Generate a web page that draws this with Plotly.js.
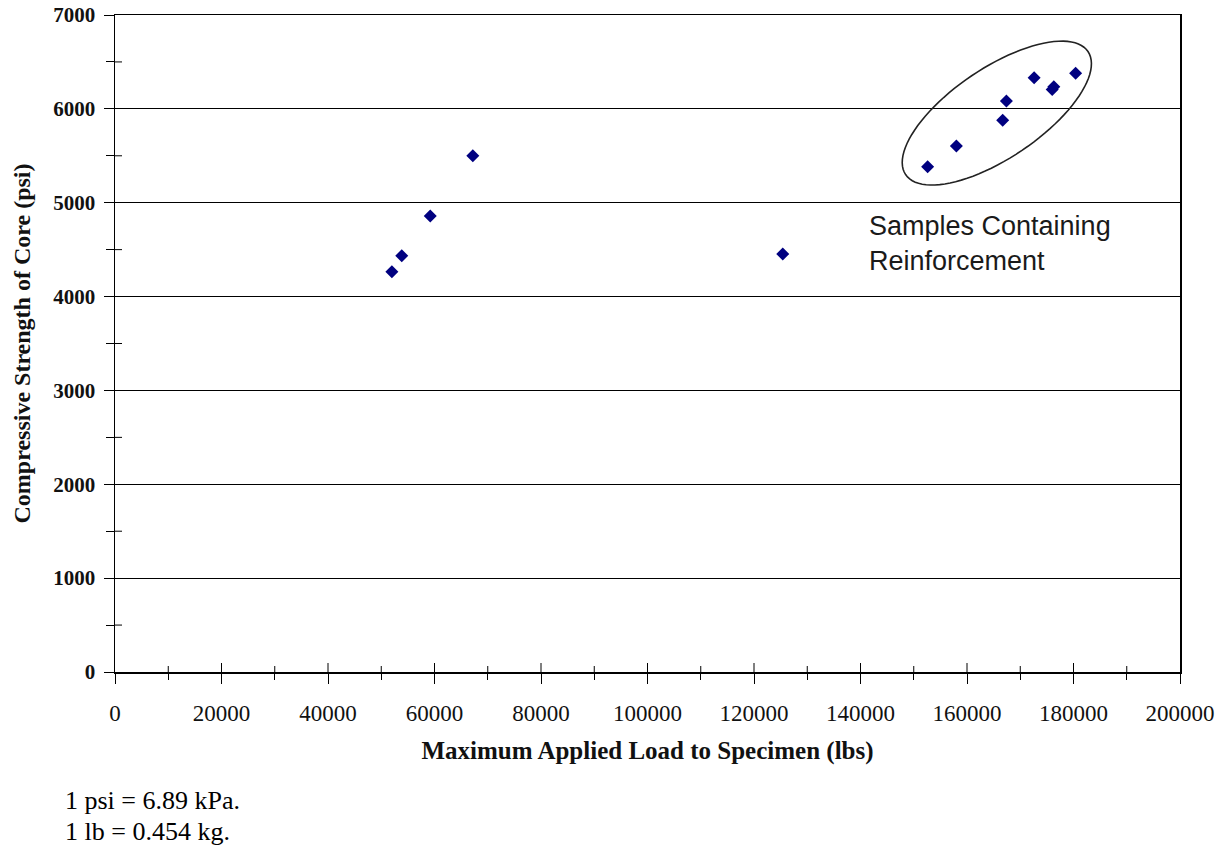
<!DOCTYPE html>
<html>
<head>
<meta charset="utf-8">
<script src="https://cdn.plot.ly/plotly-3.0.1.min.js"></script>
<style>html,body{margin:0;padding:0;background:#fff;}#chart{width:1228px;height:847px;}</style>
</head>
<body>
<div id="chart"></div>
<script>
// ---- data ----
const loadLbs = [52000, 53850, 59200, 67200, 125400, 152600, 158000, 166700, 167400, 172600, 176000, 176300, 180400];
const strengthPsi = [4265, 4435, 4858, 5500, 4453, 5384, 5604, 5878, 6084, 6332, 6205, 6235, 6379];
const xTickVals = [0, 20000, 40000, 60000, 80000, 100000, 120000, 140000, 160000, 180000, 200000];
const xMinorVals = [10000, 30000, 50000, 70000, 90000, 110000, 130000, 150000, 170000, 190000];
const yTickVals = [0, 1000, 2000, 3000, 4000, 5000, 6000, 7000];
const yMinorVals = [500, 1500, 2500, 3500, 4500, 5500, 6500];
const xTitle = 'Maximum Applied Load to Specimen (lbs)';
const yTitle = 'Compressive Strength of Core (psi)';
const noteText = 'Samples Containing<br>Reinforcement';
const footnotes = ['1 psi = 6.89 kPa.', '1 lb = 0.454 kg.'];
// ellipse highlighting reinforced samples: centre in data units, radii in px, tilt in degrees
const ellipseCenter = {x: 165600, y: 5955};
const ellipseRadiiPx = {a: 110, b: 45};
const ellipseTiltDeg = 34;

// ---- layout geometry ----
const W = 1228, H = 847;
const M = {l: 115, r: 48, t: 15, b: 175};
const xRange = [0, 200000], yRange = [0, 7000];
const pxPerX = (W - M.l - M.r) / (xRange[1] - xRange[0]);
const pxPerY = (H - M.t - M.b) / (yRange[1] - yRange[0]);

function ellipsePath() {
  const th = ellipseTiltDeg * Math.PI / 180;
  const pts = [];
  for (let i = 0; i < 96; i++) {
    const t = 2 * Math.PI * i / 96;
    const ex = ellipseRadiiPx.a * Math.cos(t), ey = ellipseRadiiPx.b * Math.sin(t);
    const dx = ex * Math.cos(th) - ey * Math.sin(th);
    const dy = ex * Math.sin(th) + ey * Math.cos(th);
    pts.push((ellipseCenter.x + dx / pxPerX).toFixed(1) + ',' + (ellipseCenter.y + dy / pxPerY).toFixed(2));
  }
  return 'M' + pts.join('L') + 'Z';
}

// inner halves of the crossing tick marks (the outer halves are the axes' own ticks)
function innerTicks() {
  const s = [];
  const ln = {color: '#000', width: 1};
  xTickVals.slice(1, -1).forEach(v => s.push({type: 'line', xref: 'x', yref: 'paper', ysizemode: 'pixel', yanchor: 0,
    x0: v, x1: v, y0: 0, y1: 9, line: ln, layer: 'above'}));
  xMinorVals.forEach(v => s.push({type: 'line', xref: 'x', yref: 'paper', ysizemode: 'pixel', yanchor: 0,
    x0: v, x1: v, y0: 0, y1: 6, line: ln, layer: 'above'}));
  yMinorVals.forEach(v => s.push({type: 'line', xref: 'paper', yref: 'y', xsizemode: 'pixel', xanchor: 0,
    x0: 0, x1: 7, y0: v, y1: v, line: ln, layer: 'above'}));
  return s;
}

const serif = 'Liberation Serif, Times New Roman, serif';

const traces = [
  {
    type: 'scatter', mode: 'markers', x: loadLbs, y: strengthPsi,
    marker: {symbol: 'diamond', size: 10, color: '#000080'},
    hoverinfo: 'x+y', showlegend: false
  }
];

const layout = {
  width: W, height: H,
  margin: M,
  paper_bgcolor: '#fff', plot_bgcolor: '#fff',
  showlegend: false,
  xaxis: {
    range: xRange, tickvals: xTickVals, ticktext: xTickVals.map(String),
    ticks: 'outside', ticklen: 10, tickwidth: 1, tickcolor: '#000',
    minor: {tickvals: xMinorVals, ticks: 'outside', ticklen: 6, tickwidth: 1, tickcolor: '#000', showgrid: false},
    showgrid: false, zeroline: false,
    showline: true, mirror: true, linecolor: '#000', linewidth: 1.5,
    ticklabelstandoff: 10,
    tickfont: {family: serif, size: 23, color: '#111'},
    title: {text: '<b>' + xTitle + '</b>', font: {family: serif, size: 25, color: '#111'}, standoff: 16},
    automargin: false
  },
  yaxis: {
    range: yRange, tickvals: yTickVals, ticktext: yTickVals.map(String),
    ticks: 'outside', ticklen: 10, tickwidth: 1, tickcolor: '#000',
    minor: {tickvals: yMinorVals, ticks: 'outside', ticklen: 8, tickwidth: 1, tickcolor: '#000', showgrid: false},
    showgrid: true, gridcolor: '#000', gridwidth: 1, zeroline: false,
    showline: true, mirror: true, linecolor: '#000', linewidth: 1.5,
    ticklabelstandoff: 4,
    tickfont: {family: serif, size: 21, color: '#111', weight: 'bold'},
    title: {text: '<b>' + yTitle + '</b>', font: {family: serif, size: 24, color: '#111'}, standoff: 16},
    automargin: false
  },
  shapes: [
    {type: 'path', xref: 'x', yref: 'y', path: ellipsePath(), line: {color: '#222', width: 1.6}, fillcolor: 'rgba(0,0,0,0)'}
  ].concat(innerTicks()),
  annotations: [
    {xref: 'x', yref: 'y', x: 141300, y: 4570, xanchor: 'left', yanchor: 'middle', align: 'left', showarrow: false,
     text: noteText, font: {family: 'Liberation Sans, Arial, sans-serif', size: 27, color: '#1a1a1a'}},
    {xref: 'paper', yref: 'paper', x: -0.049, y: -0.195, xanchor: 'left', yanchor: 'middle', showarrow: false,
     text: footnotes[0], font: {family: serif, size: 26, color: '#000'}},
    {xref: 'paper', yref: 'paper', x: -0.049, y: -0.243, xanchor: 'left', yanchor: 'middle', showarrow: false,
     text: footnotes[1], font: {family: serif, size: 26, color: '#000'}}
  ]
};

Plotly.newPlot('chart', traces, layout, {displayModeBar: false, staticPlot: true});
</script>
</body>
</html>
